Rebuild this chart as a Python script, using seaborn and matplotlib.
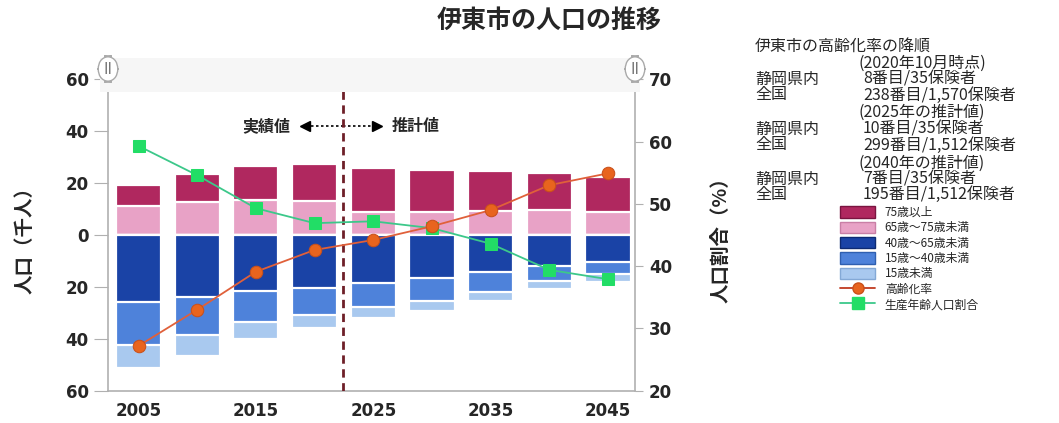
import numpy as np
import pandas as pd
import seaborn as sns
import matplotlib.pyplot as plt
from matplotlib.patches import Patch, Rectangle
from matplotlib.lines import Line2D
from matplotlib.ticker import FuncFormatter

# ---- data (population in thousands, ratios in %) ----
years = [2005, 2010, 2015, 2020, 2025, 2030, 2035, 2040, 2045]
age_75_plus = [8.1, 10.6, 13.2, 14.4, 16.9, 16.3, 15.5, 14.2, 13.5]
age_65_75 = [11.2, 12.8, 13.5, 13.1, 9.0, 8.7, 9.2, 9.6, 9.0]
age_40_65 = [25.7, 23.8, 21.5, 20.3, 18.6, 16.7, 14.4, 11.8, 10.3]
age_15_40 = [16.7, 14.7, 12.2, 10.5, 9.0, 8.6, 7.4, 5.8, 4.9]
age_under_15 = [8.7, 8.0, 6.4, 4.9, 4.3, 3.9, 3.5, 3.2, 2.8]
aging_rate = [27.2, 33.0, 39.1, 42.6, 44.2, 46.4, 49.0, 53.0, 54.9]
working_age_ratio = [59.3, 54.6, 49.3, 46.9, 47.2, 46.1, 43.6, 39.4, 37.9]

group_labels = ["75歳以上", "65歳～75歳未満", "40歳～65歳未満", "15歳～40歳未満", "15歳未満"]
group_colors = ["#B0285F", "#E8A2C6", "#1A43A6", "#4E82DA", "#A9C9EF"]
group_edges = ["#7A1440", "#C97FA6", "#0E2A73", "#2F5FB0", "#84A9D6"]
line_labels = ["高齢化率", "生産年齢人口割合"]

title = "伊東市の人口の推移"
ylabel_left = "人口（千人）"
ylabel_right = "人口割合（%）"

rank_lines = [
    ("伊東市の高齢化率の降順", None),
    ("(2020年10月時点)", None),
    ("静岡県内", "8番目/35保険者"),
    ("全国", "238番目/1,570保険者"),
    ("(2025年の推計値)", None),
    ("静岡県内", "10番目/35保険者"),
    ("全国", "299番目/1,512保険者"),
    ("(2040年の推計値)", None),
    ("静岡県内", "7番目/35保険者"),
    ("全国", "195番目/1,512保険者"),
]

sns.set_style("white")
plt.rcParams["font.family"] = ["Noto Sans CJK JP", "DejaVu Sans"]

W, H = 1059, 423
fig = plt.figure(figsize=(W / 100, H / 100), dpi=100)

def fx(px):
    return px / W

def fy(py):
    return 1 - py / H

# faint band across the top of the plot area
fig.patches.append(Rectangle((fx(100), fy(92)), fx(640) - fx(100), fy(58) - fy(92),
                             transform=fig.transFigure, facecolor="#f6f6f6",
                             edgecolor="none", zorder=0))

ax = fig.add_axes([fx(108), fy(390.7), fx(635) - fx(108), fy(79.3) - fy(390.7)])
ax.set_facecolor("none")

df = pd.DataFrame({"year": years})

# elderly groups stacked above zero, younger groups stacked below zero
upper = [age_65_75, age_75_plus]
upper_idx = [1, 0]
lower = [age_40_65, age_15_40, age_under_15]
lower_idx = [2, 3, 4]

up_cum = np.cumsum(np.array(upper), axis=0)
lo_cum = -np.cumsum(np.array(lower), axis=0)

for k in range(len(upper) - 1, -1, -1):
    i = upper_idx[k]
    sns.barplot(x=df["year"], y=up_cum[k], native_scale=True, width=0.77,
                color=group_colors[i], saturation=1, edgecolor="white",
                linewidth=1.6, errorbar=None, ax=ax, zorder=2)
for k in range(len(lower) - 1, -1, -1):
    i = lower_idx[k]
    sns.barplot(x=df["year"], y=lo_cum[k], native_scale=True, width=0.77,
                color=group_colors[i], saturation=1, edgecolor="white",
                linewidth=1.6, errorbar=None, ax=ax, zorder=2)

ax.set_xlim(2002.4, 2047.3)
ax.set_ylim(-60, 60)
ax.set_xticks([2005, 2015, 2025, 2035, 2045])
ax.set_xticklabels(["2005", "2015", "2025", "2035", "2045"])
ax.set_yticks([-60, -40, -20, 0, 20, 40, 60])
ax.yaxis.set_major_formatter(FuncFormatter(lambda v, p: f"{abs(int(round(v)))}"))
ax.set_xlabel("")
ax.set_ylabel(ylabel_left, fontsize=14, fontweight="bold", labelpad=22)

for side in ["top", "right"]:
    ax.spines[side].set_visible(False)
for side in ["left", "bottom"]:
    ax.spines[side].set_color("#b0b0b0")
    ax.spines[side].set_linewidth(1.2)
ax.tick_params(axis="y", length=10, color="#b0b0b0", labelsize=12, pad=4)
ax.tick_params(axis="x", length=6, color="#b0b0b0", labelsize=12, pad=2)
for t in ax.get_xticklabels() + ax.get_yticklabels():
    t.set_fontweight("bold")
    t.set_family(["DejaVu Sans"])

# boundary between actual and projected values
ax.axvline(2022.4, color="#6e1f28", linestyle=(0, (3, 2)), linewidth=2, zorder=5)

ax.text(2015.9, 42, "実績値", ha="center", va="center", fontsize=11.5, fontweight="bold")
ax.text(2028.6, 42, "推計値", ha="center", va="center", fontsize=11.5, fontweight="bold")
ax.plot([2019.3, 2022.4], [42, 42], color="black", linestyle=(0, (1.5, 1.5)), linewidth=1.2)
ax.plot([2022.4, 2025.1], [42, 42], color="black", linestyle=(0, (1.5, 1.5)), linewidth=1.2)
ax.plot([2019.2], [42], marker="<", color="black", markersize=7)
ax.plot([2025.3], [42], marker=">", color="black", markersize=7)

# ratio lines on the secondary axis
ax2 = ax.twinx()
ax2.set_facecolor("none")
sns.lineplot(x=years, y=working_age_ratio, ax=ax2, color="#3cc88a", linewidth=1.3,
             marker="s", markersize=9, markerfacecolor="#22dd66",
             markeredgecolor="#22dd66", zorder=6)
sns.lineplot(x=years, y=aging_rate, ax=ax2, color="#e0603a", linewidth=1.3,
             marker="o", markersize=9, markerfacecolor="#e8641e",
             markeredgecolor="#c9501a", zorder=6)
ax2.set_ylim(20, 70)
ax2.set_yticks([20, 30, 40, 50, 60, 70])
ax2.set_ylabel(ylabel_right, fontsize=14, fontweight="bold", labelpad=28)
for side in ["top", "left", "bottom"]:
    ax2.spines[side].set_visible(False)
ax2.spines["right"].set_color("#b0b0b0")
ax2.spines["right"].set_linewidth(1.2)
ax2.tick_params(axis="y", length=6, color="#b0b0b0", labelsize=12, pad=4)
for t in ax2.get_yticklabels():
    t.set_fontweight("bold")
    t.set_family(["DejaVu Sans"])

# small axis handles at the top of each spine
for px in (108, 635):
    fig.text(fx(px), fy(69), "II", ha="center", va="center", fontsize=11, color="#777777",
             family=["DejaVu Sans"],
             bbox=dict(boxstyle="round,pad=0.35,rounding_size=0.9", facecolor="white",
                       edgecolor="#aaaaaa", linewidth=1))

fig.text(fx(549), fy(21), title, ha="center", va="center", fontsize=18, fontweight="bold")

# ranking notes
rank_y = [46, 63, 79, 95, 112, 129, 145, 163, 179, 194]
for (a, b), py in zip(rank_lines, rank_y):
    if b is None:
        x0 = 755 if py == 46 else 858
        fig.text(fx(x0), fy(py), a, ha="left", va="center", fontsize=11.5)
    else:
        fig.text(fx(755), fy(py), a, ha="left", va="center", fontsize=11.5)
        fig.text(fx(863), fy(py), b, ha="left", va="center", fontsize=11.5)

handles = [Patch(facecolor=group_colors[i], edgecolor=group_edges[i], linewidth=1)
           for i in range(5)]
handles += [
    Line2D([], [], color="#c03a20", linewidth=1.3, marker="o", markersize=8,
           markerfacecolor="#e8641e", markeredgecolor="#c9501a"),
    Line2D([], [], color="#3cc88a", linewidth=1.3, marker="s", markersize=8,
           markerfacecolor="#22dd66", markeredgecolor="#22dd66"),
]
fig.legend(handles, group_labels + line_labels, loc="upper left",
           bbox_to_anchor=(fx(840), fy(206)), frameon=False, fontsize=8.5,
           handlelength=3.0, handleheight=1.1, labelspacing=0.2, handletextpad=0.8,
           borderaxespad=0, borderpad=0)

fig.savefig("out.png", dpi=100)
